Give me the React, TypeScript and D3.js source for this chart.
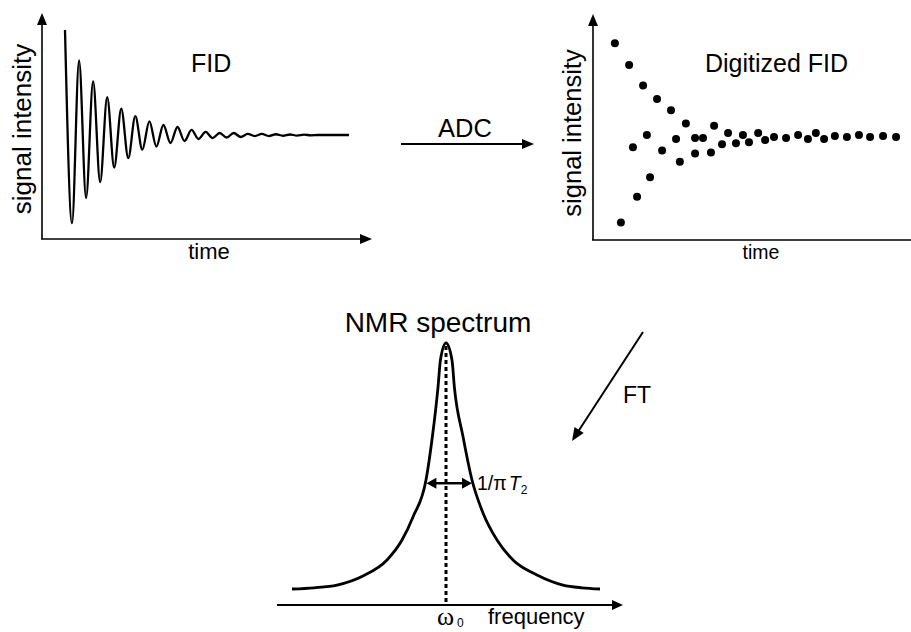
import React from "react";
import * as d3 from "d3";

// FID extrema (time in oscillation periods, signal relative to the first point)
const fidTime = [0, 0.5, 1, 1.5, 2, 2.5, 3, 3.5, 4, 4.5, 5, 5.5, 6, 6.5, 7, 7.5, 8, 8.5, 9, 9.5, 10, 10.5, 11, 11.5, 12, 12.5, 13, 13.5, 14, 14.5, 15, 15.5, 16, 16.5, 17, 17.5, 18, 20.2];
const fidSignal = [1.0, -0.84, 0.71, -0.6, 0.51, -0.45, 0.36, -0.31, 0.25, -0.22, 0.18, -0.14, 0.13, -0.11, 0.095, -0.076, 0.076, -0.057, 0.048, -0.038, 0.029, -0.029, 0.019, -0.024, 0.019, -0.019, 0.01, -0.01, 0.01, -0.01, 0.007, -0.007, 0.005, -0.005, 0.003, -0.003, 0, 0];

// digitized samples
const dotTime = [6.9, 8.8, 11.4, 12.6, 13.9, 15.8, 17.0, 18.0, 20.2, 21.8, 24.6, 26.2, 27.4, 29.3, 32.2, 32.2, 34.7, 37.2, 38.2, 40.7, 42.6, 45.1, 47.3, 49.2, 52.1, 54.3, 57.1, 60.9, 64.7, 67.8, 70.3, 72.9, 76.3, 80.1, 83.9, 87.4, 91.5, 95.6];
const dotSignal = [0.91, -0.83, 0.7, -0.1, -0.58, 0.5, 0.02, -0.39, 0.37, -0.13, 0.26, -0.02, -0.24, 0.13, -0.01, -0.16, -0.01, -0.15, 0.11, -0.07, 0.04, -0.06, 0.02, -0.05, 0.04, -0.03, 0.0, -0.01, 0.02, -0.02, 0.04, -0.02, 0.01, 0.0, 0.02, 0.0, 0.01, 0.0];

// NMR line shape (frequency offset from omega0, relative intensity)
const specFreq = [-7.7, -6.6, -5.45, -4.15, -2.95, -2.2, -1.65, -1.0, -0.68, -0.4, -0.28, 0, 0.3, 0.42, 0.85, 1.3, 1.85, 2.55, 3.35, 4.55, 5.85, 6.8, 7.7];
const specIntensity = [0, 0.005, 0.016, 0.053, 0.118, 0.199, 0.293, 0.443, 0.62, 0.82, 0.93, 1.0, 0.93, 0.82, 0.62, 0.443, 0.309, 0.199, 0.118, 0.057, 0.016, 0.005, 0];

const halfWidth = [-0.98, 1.3];

const FONT = "'Liberation Sans', Arial, Helvetica, sans-serif";

function Arrow({ x1, y1, x2, y2, width = 2, head = 12, spread = 5.5, both = false }: any) {
  const a = Math.atan2(y2 - y1, x2 - x1);
  const tip = (x: number, y: number, ang: number) => {
    const bx = x - head * Math.cos(ang);
    const by = y - head * Math.sin(ang);
    const px = -Math.sin(ang) * spread;
    const py = Math.cos(ang) * spread;
    return `M${x},${y}L${bx + px},${by + py}L${bx - px},${by - py}Z`;
  };
  const ex = x2 - (head - 2) * Math.cos(a);
  const ey = y2 - (head - 2) * Math.sin(a);
  const sx = both ? x1 + (head - 2) * Math.cos(a) : x1;
  const sy = both ? y1 + (head - 2) * Math.sin(a) : y1;
  return (
    <g>
      <line x1={sx} y1={sy} x2={ex} y2={ey} stroke="#000" strokeWidth={width} />
      <path d={tip(x2, y2, a)} fill="#000" />
      {both && <path d={tip(x1, y1, a + Math.PI)} fill="#000" />}
    </g>
  );
}

export default function App() {
  // panel 1: analog FID
  const x1 = d3.scaleLinear().domain([0, 20.2]).range([65, 349]);
  const y1 = d3.scaleLinear().domain([-1, 1]).range([240, 30]);
  const fidLine = d3
    .line<number>()
    .x((d, i) => x1(fidTime[i]))
    .y(d => y1(d))
    .curve(d3.curveMonotoneX);

  // panel 2: digitized FID
  const x2 = d3.scaleLinear().domain([0, 100]).range([593, 910]);
  const y2 = d3.scaleLinear().domain([-1, 1]).range([240, 34]);

  // panel 3: spectrum
  const xs = d3.scaleLinear().domain([-8, 8]).range([286, 606]);
  const ys = d3.scaleLinear().domain([0, 1]).range([589, 343]);
  const specLine = d3
    .line<number>()
    .x((d, i) => xs(specFreq[i]))
    .y(d => ys(d))
    .curve(d3.curveMonotoneX);

  return (
    <svg
      width={911}
      height={632}
      style={{ position: "absolute", left: 0, top: 0, background: "#fff" }}
      fontFamily={FONT}
    >
      {/* FID panel */}
      <Arrow x1={42} y1={239} x2={42} y2={13} width={1.6} head={12} spread={5} />
      <Arrow x1={41} y1={239} x2={372} y2={239} width={1.6} head={12} spread={5} />
      <path d={fidLine(fidSignal) || ""} fill="none" stroke="#000" strokeWidth={2.3} />
      <text x={191} y={72} fontSize={25}>FID</text>
      <text x={209} y={259} fontSize={22} textAnchor="middle">time</text>
      <text transform="translate(31,129) rotate(-90)" fontSize={26} textAnchor="middle">signal intensity</text>

      {/* ADC arrow */}
      <Arrow x1={401} y1={144} x2={534} y2={144} width={2} head={12} spread={5} />
      <text x={465} y={137} fontSize={25.5} textAnchor="middle">ADC</text>

      {/* Digitized panel */}
      <Arrow x1={593} y1={240} x2={593} y2={14} width={1.6} head={12} spread={5} />
      <line x1={592} y1={240} x2={911} y2={240} stroke="#000" strokeWidth={1.6} />
      {dotSignal.map((d, i) => (
        <circle key={i} cx={x2(dotTime[i])} cy={y2(d)} r={4} fill="#000" />
      ))}
      <text x={705} y={72} fontSize={25}>Digitized FID</text>
      <text x={761} y={259} fontSize={19.5} textAnchor="middle">time</text>
      <text transform="translate(581,133) rotate(-90)" fontSize={25.5} textAnchor="middle">signal intensity</text>

      {/* FT arrow */}
      <Arrow x1={643} y1={332} x2={572} y2={441} width={2} head={13} spread={5.5} />
      <text x={623} y={403} fontSize={23}>FT</text>

      {/* Spectrum */}
      <text x={438} y={332} fontSize={28} textAnchor="middle">NMR spectrum</text>
      <Arrow x1={277} y1={605} x2={623} y2={605} width={2} head={11} spread={5} />
      <line
        x1={xs(0)}
        x2={xs(0)}
        y1={ys(1) + 3}
        y2={603}
        stroke="#000"
        strokeWidth={3}
        strokeDasharray="4 3"
      />
      <path d={specLine(specIntensity) || ""} fill="none" stroke="#000" strokeWidth={2.8} />
      <Arrow
        x1={xs(halfWidth[0])}
        y1={ys(0.43)}
        x2={xs(halfWidth[1])}
        y2={ys(0.43)}
        width={2.5}
        head={10}
        spread={5.5}
        both
      />
      <text x={477} y={490} fontSize={19.5}>
        1/π<tspan fontStyle="italic" dx={2}>T</tspan>
        <tspan fontSize={12} dy={4}>2</tspan>
      </text>
      <text x={437} y={625} fontSize={26} fontFamily="'Liberation Serif', 'Times New Roman', serif">ω</text>
      <text x={457} y={627} fontSize={12}>0</text>
      <text x={488} y={624} fontSize={22}>frequency</text>
    </svg>
  );
}
